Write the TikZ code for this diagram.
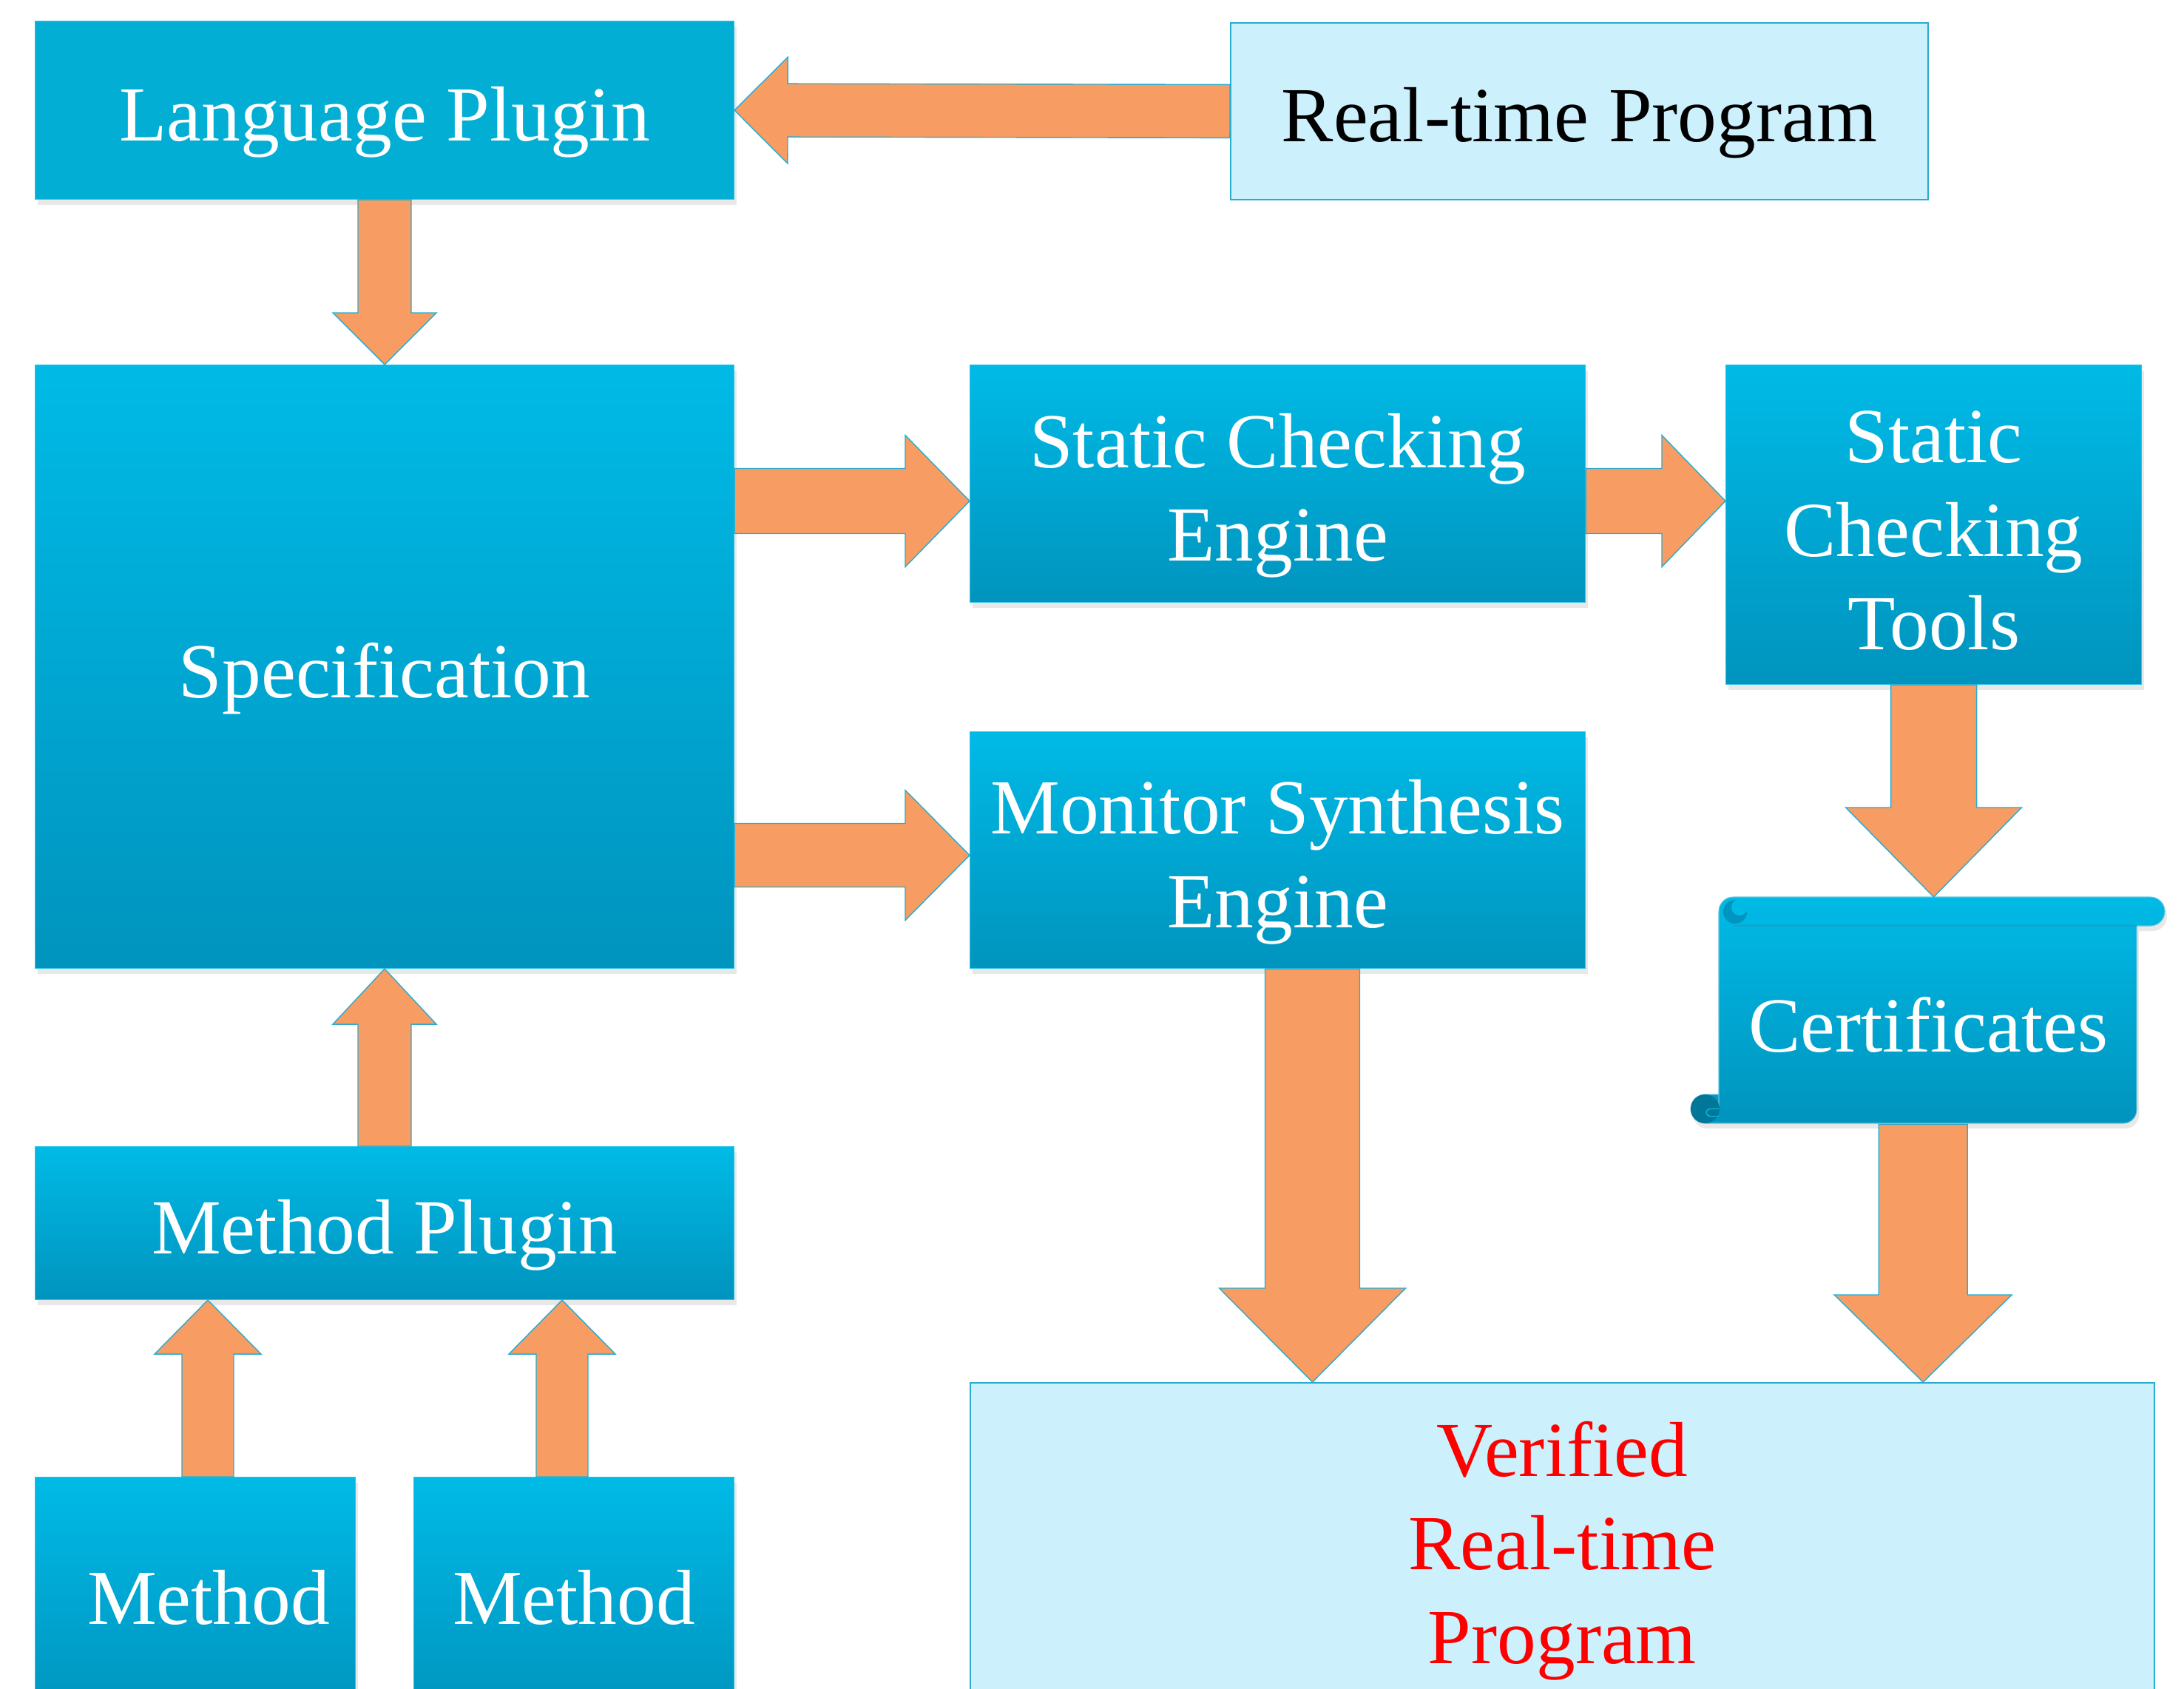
\documentclass[tikz,border=0pt]{standalone}
\usepackage{fontspec}
\setmainfont{Liberation Serif}
\usepackage{tikz}
\usetikzlibrary{positioning,calc,shadows}

\definecolor{boxtop}{RGB}{0,186,230}
\definecolor{boxbot}{RGB}{0,148,190}
\definecolor{boxflat}{RGB}{2,174,211}
\definecolor{lightbox}{RGB}{204,240,252}
\definecolor{edge}{RGB}{40,172,208}
\definecolor{arrowfill}{RGB}{247,156,98}

% block arrow: start, tip, half shaft, half head, head length
\newcommand{\blockarrow}[5]{%
  \coordinate (hb) at ($(#2)!#5!(#1)$);
  \draw[barrow] ($(#1)!#3!90:(#2)$) -- ($(hb)!#3!90:(#2)$) -- ($(hb)!#4!90:(#2)$) -- (#2)
    -- ($(hb)!#4!-90:(#2)$) -- ($(hb)!#3!-90:(#2)$) -- ($(#1)!#3!-90:(#2)$) -- cycle;
}
% strut that pushes the text of a box down a little
\newcommand{\lowstrut}[1]{\rule{0pt}{#1}}

\begin{document}
\begin{tikzpicture}[x=1mm, y=1mm,
    box/.style={rectangle, anchor=north west, inner sep=0pt, top color=boxtop, bottom color=boxbot, draw=boxtop!85!white, line width=0.3pt, text=white, align=center, font=\fontsize{30}{36}\selectfont, drop shadow={opacity=0.18, shadow xshift=0.3mm, shadow yshift=-0.7mm}},
    lightbox/.style={rectangle, anchor=north west, inner sep=0pt, fill=lightbox, draw=edge, line width=0.5pt, align=center, font=\fontsize{30}{36}\selectfont},
    textdown/.style={execute at begin node={\lowstrut{#1}}},
    barrow/.style={fill=arrowfill, draw=edge, line width=0.4pt, line join=miter}
]
    \useasboundingbox (0,0) rectangle (295.3,-228.4);
    \clip (0,0) rectangle (295.3,-228.4);

    % Left column
    \node [box, textdown=30pt, top color=boxflat, bottom color=boxflat, minimum width=94.5mm, minimum height=24.1mm] (lang) at (4.7,-2.8) {Language Plugin};
    \node [box, textdown=30pt, minimum width=94.5mm, minimum height=81.6mm] (spec) at (4.7,-49.3) {Specification};
    \node [box, textdown=30pt, minimum width=94.5mm, minimum height=20.7mm] (mplug) at (4.7,-155.0) {Method Plugin};
    \node [box, execute at begin node={\hspace*{3.6mm}}, minimum width=43.3mm, minimum height=32.6mm] (meth1) at (4.7,-199.7) {Method};
    \node [box, minimum width=43.3mm, minimum height=32.6mm] (meth2) at (55.9,-199.7) {Method};

    % Engines
    \node [lightbox, textdown=30pt, minimum width=94.3mm, minimum height=23.9mm] (rtp) at (166.3,-3.0) {Real-time Program};
    \node [box, minimum width=83.2mm, minimum height=32.1mm] (sce) at (131.1,-49.3) {\lowstrut{30pt}Static Checking\\Engine};
    \node [box, minimum width=56.2mm, minimum height=43.2mm] (sct) at (233.3,-49.3) {\lowstrut{24.6pt}Static\\Checking\\Tools};
    \node [box, minimum width=83.2mm, minimum height=32.0mm] (mse) at (131.1,-98.9) {\lowstrut{30pt}Monitor Synthesis\\Engine};
    \node [lightbox, text=red, minimum width=160.1mm, minimum height=45.4mm] (ver) at (131.1,-186.9) {Verified\\Real-time\\Program};

    % Certificates scroll
    \shade [top color=boxtop, bottom color=boxbot, draw=edge!70, line width=0.3pt, drop shadow={opacity=0.18, shadow xshift=0.3mm, shadow yshift=-0.7mm}]
        (232.4,-149.95) -- (232.4,-123.25) arc (180:90:1.95mm) -- (290.75,-121.3) arc (90:-90:1.95mm)
        -- (288.9,-125.2) -- (288.9,-150.1) arc (0:-90:1.8mm) -- (230.55,-151.9) arc (270:90:1.95mm)
        -- (232.4,-148.0) -- cycle;
    \draw [boxbot!90, line width=0.4pt] (234.35,-125.2) -- (288.9,-125.2);
    \fill [boxbot] (234.6,-123.3) circle (1.6mm);
    \fill [boxtop] (235.2,-122.7) circle (1.1mm);
    \fill [boxbot!80!black] (230.55,-149.95) circle (1.95mm);
    \draw [boxtop, line width=0.4pt] (232.4,-149.95) -- (231.2,-149.95) arc (90:270:0.5mm) -- (232.4,-150.95);
    \node [anchor=north west, inner sep=0pt, minimum width=56.5mm, minimum height=26.7mm, text=white, font=\fontsize{30}{36}\selectfont] (cert) at (232.4,-125.2) {Certificates};
    \coordinate (certtop) at ([yshift=3.9mm]cert.north);

    % Arrows
    \coordinate (a3e) at ([yshift=-2.35mm]sce.west);
    \coordinate (a3s) at (spec.east |- a3e);
    \coordinate (a4s) at (sce.east |- a3e);
    \coordinate (a4e) at (sct.west |- a3e);
    \coordinate (a8e) at ([yshift=-0.7mm]mse.west);
    \coordinate (a8s) at (spec.east |- a8e);
    \coordinate (a5e) at (sct.south |- certtop);
    \coordinate (a6s) at ([xshift=-0.7mm]cert.south);
    \coordinate (a6e) at (a6s |- ver.north);
    \coordinate (a7s) at ([xshift=4.7mm]mse.south);
    \coordinate (a7e) at (a7s |- ver.north);
    \coordinate (a10s) at ([xshift=1.7mm]meth1.north);
    \coordinate (a10e) at (a10s |- mplug.south);
    \coordinate (a11s) at ([xshift=-1.6mm]meth2.north);
    \coordinate (a11e) at (a11s |- mplug.south);

    \blockarrow{rtp.west}{lang.east}{3.6mm}{7.2mm}{7.2mm}
    \blockarrow{lang.south}{spec.north}{3.6mm}{7.0mm}{7.0mm}
    \blockarrow{a3s}{a3e}{4.4mm}{8.9mm}{8.7mm}
    \blockarrow{a4s}{a4e}{4.4mm}{8.9mm}{8.6mm}
    \blockarrow{a8s}{a8e}{4.3mm}{8.8mm}{8.7mm}
    \blockarrow{sct.south}{a5e}{5.8mm}{11.9mm}{12.1mm}
    \blockarrow{a6s}{a6e}{6.0mm}{12.0mm}{11.8mm}
    \blockarrow{a7s}{a7e}{6.4mm}{12.6mm}{12.7mm}
    \blockarrow{mplug.north}{spec.south}{3.6mm}{7.0mm}{7.5mm}
    \blockarrow{a10s}{a10e}{3.5mm}{7.2mm}{7.3mm}
    \blockarrow{a11s}{a11e}{3.5mm}{7.2mm}{7.3mm}
\end{tikzpicture}
\end{document}
